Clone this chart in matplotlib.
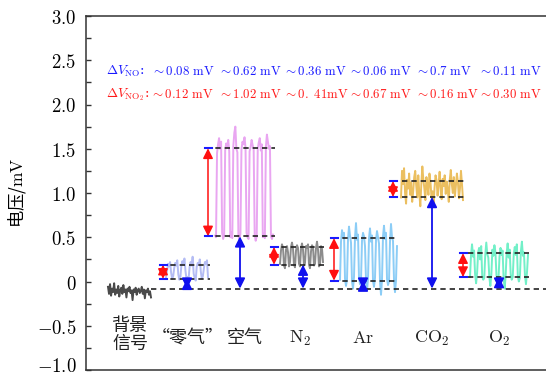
import numpy as np
import matplotlib
matplotlib.use('Agg')
import matplotlib.pyplot as plt
from matplotlib.ticker import FixedLocator, FixedFormatter, MultipleLocator
from matplotlib.transforms import ScaledTranslation

plt.rcParams['mathtext.fontset'] = 'cm'
plt.rcParams['font.family'] = ['Noto Sans CJK SC', 'DejaVu Sans']

# ---------------- data ----------------
categories = ['背景\n信号', '“零气”', '空气', r'$\mathrm{N_2}$', r'$\mathrm{Ar}$',
              r'$\mathrm{CO_2}$', r'$\mathrm{O_2}$']
baseline = -0.08
# levels for 零气, 空气, N2, Ar, CO2, O2
low_levels = [0.03, 0.51, 0.19, 0.01, 0.955, 0.05]
high_levels = [0.19, 1.505, 0.39, 0.49, 1.135, 0.32]

dv_no_text = ['~0.08 mV', '~0.62 mV', '~0.36 mV', '~0.06 mV', '~0.7 mV', '~0.11 mV']
dv_no2_text = ['~0.12 mV', '~1.02 mV', '~0. 41mV', '~0.67 mV', '~0.16 mV', '~0.30 mV']

trace_bg = [-0.06, -0.14, -0.03, -0.16, -0.08, -0.12, -0.02, -0.15, -0.09, -0.13, -0.05,
            -0.17, -0.10, -0.07, -0.14, -0.04, -0.12, -0.09, -0.18, -0.08, -0.11, -0.06,
            -0.13, -0.10, -0.21, -0.09, -0.12, -0.07, -0.15, -0.10, -0.08, -0.13, -0.11,
            -0.06, -0.14, -0.09, -0.19, -0.10, -0.12, -0.08, -0.15, -0.11, -0.18]
trace_zero = [0.05, 0.12, 0.20, 0.17, 0.22, 0.10, 0.03, 0.06, 0.15, 0.21, 0.18, 0.24, 0.08,
              0.02, 0.04, 0.18, 0.23, 0.19, 0.26, 0.12, 0.03, 0.05, 0.02, 0.16, 0.22, 0.18,
              0.28, 0.09, 0.04, 0.01, 0.17, 0.21, 0.19, 0.25, 0.11, 0.03, 0.06, 0.15, 0.22,
              0.20, 0.24, 0.05]
trace_air = [0.52, 0.50, 1.45, 1.55, 1.62, 1.50, 1.58, 0.55, 0.48, 0.53, 1.48, 1.56, 1.52,
             1.60, 1.47, 0.50, 0.56, 0.49, 1.53, 1.68, 1.75, 1.50, 1.46, 0.52, 0.47, 0.54,
             1.49, 1.58, 1.55, 1.63, 1.51, 0.55, 0.50, 0.48, 1.47, 1.52, 1.60, 1.54, 1.49,
             0.53, 0.46, 0.51, 1.50, 1.57, 1.62, 1.48, 1.55, 0.50, 0.54, 0.49, 1.52, 1.66,
             1.58, 1.50, 1.53, 0.51, 0.48, 0.53]
trace_n2 = [0.20, 0.35, 0.42, 0.38, 0.18, 0.15, 0.36, 0.40, 0.33, 0.17, 0.22, 0.39, 0.44,
            0.37, 0.19, 0.16, 0.35, 0.41, 0.38, 0.20, 0.17, 0.37, 0.43, 0.36, 0.18, 0.21,
            0.40, 0.38, 0.42, 0.19, 0.15, 0.34, 0.41, 0.39, 0.18, 0.20, 0.38, 0.45, 0.36,
            0.17, 0.19, 0.40, 0.37, 0.22]
trace_ar = [0.02, 0.45, 0.58, 0.50, 0.55, 0.03, -0.05, 0.02, 0.48, 0.62, 0.52, 0.44, 0.00,
            -0.08, 0.05, 0.50, 0.66, 0.47, 0.53, 0.04, -0.03, 0.01, 0.46, 0.55, 0.51, 0.40,
            0.02, -0.10, 0.03, 0.49, 0.60, 0.45, 0.52, 0.01, -0.06, 0.04, 0.47, 0.57, 0.50,
            0.43, 0.00, -0.15, 0.02, 0.51, 0.63, 0.48, 0.55, 0.03, -0.04, 0.00, 0.45, 0.65,
            0.50, 0.46, 0.02, -0.12, 0.01, 0.40]
trace_co2 = [0.95, 1.25, 1.10, 1.28, 1.00, 0.88, 1.15, 1.05, 1.22, 0.98, 1.12, 0.90, 1.02,
             1.18, 1.25, 1.08, 0.95, 1.20, 1.00, 0.85, 1.10, 1.30, 1.15, 1.05, 0.92, 1.18,
             1.08, 0.98, 1.22, 1.12, 0.95, 1.02, 0.88, 1.06, 1.20, 1.14, 0.97, 1.10, 1.24,
             1.03, 0.93, 1.16, 1.08, 1.20, 0.99, 1.13, 1.04, 0.90, 1.15, 1.26, 1.10, 1.00,
             1.18, 0.96, 1.08, 1.22, 1.12, 0.94, 1.05, 1.25, 1.10, 0.92]
trace_o2 = [0.05, 0.30, 0.42, 0.28, 0.35, 0.08, -0.02, 0.10, 0.33, 0.38, 0.25, 0.40, 0.06,
            0.02, 0.04, 0.30, 0.44, 0.31, 0.27, 0.05, -0.05, 0.08, 0.36, 0.29, 0.41, 0.33,
            0.07, 0.01, 0.03, 0.28, 0.38, 0.30, 0.35, 0.04, -0.08, 0.06, 0.32, 0.43, 0.27,
            0.36, 0.08, 0.02, 0.05, 0.31, 0.39, 0.30, 0.42, 0.06, 0.00, 0.04, 0.34, 0.45,
            0.29, 0.33, 0.07, -0.03, 0.10, 0.30]
traces = [trace_bg, trace_zero, trace_air, trace_n2, trace_ar, trace_co2, trace_o2]

# ---------------- layout / style ----------------
trace_colors = ['#4a4a4a', '#b4bcf4', '#e9a6f1', '#8c8c8c', '#8ccdf6', '#ebbf60', '#72f0c8']
trace_spans = [(108, 151), (166, 208), (215, 273), (280, 323), (340, 397), (401, 463), (470, 528)]
dash_spans = [(161, 210), (206, 275), (272, 325), (333, 398), (402, 464), (468, 529)]
red_x = [163, 208, 274, 334, 393, 463]
blue_x = [187, 240, 303, 363, 432, 499]
label_x = [130, 188, 245, 300, 363, 432, 499]
label_y = [-0.6, -0.64, -0.64, -0.64, -0.64, -0.64, -0.64]
text_x = [151, 218, 283, 348, 415, 478]

fig = plt.figure(figsize=(5.46, 3.77), dpi=100)
ax = fig.add_axes([86/546, 7/377, 1 - 86/546, (370 - 16)/377])
ax.set_xlim(86, 546)
ax.set_ylim(-1.0, 3.0)

dash_kw = dict(color='#222222', lw=1.2, ls=(0, (3.2, 2.4)))

# baseline
ax.plot([151, 546], [baseline, baseline], **dash_kw, zorder=3)

for (x0, x1), vals, c in zip(trace_spans, traces, trace_colors):
    xs = np.linspace(x0, x1, len(vals))
    ax.plot(xs, vals, color=c, lw=1.4, zorder=2)

for i in range(6):
    lo, hi = low_levels[i], high_levels[i]
    d0, d1 = dash_spans[i]
    ax.plot([d0, d1], [lo, lo], **dash_kw, zorder=3)
    ax.plot([d0, d1], [hi, hi], **dash_kw, zorder=3)
    rx = red_x[i]
    ax.annotate('', xy=(rx, hi), xytext=(rx, lo),
                arrowprops=dict(arrowstyle='<|-|>,head_length=0.6,head_width=0.3',
                                color='#ff1010', lw=1.1, shrinkA=0, shrinkB=0,
                                mutation_scale=10), zorder=4)
    for yy in (lo, hi):
        ax.plot([rx - 3.5, rx + 3.5], [yy, yy], color='#1a1aff', lw=1.5, zorder=5)
    bx = blue_x[i]
    ax.annotate('', xy=(bx, lo), xytext=(bx, baseline),
                arrowprops=dict(arrowstyle='<|-|>,head_length=0.6,head_width=0.3',
                                color='#1010ee', lw=1.3, shrinkA=0, shrinkB=0,
                                mutation_scale=10), zorder=4)

# category labels
for lx, ly, lab in zip(label_x, label_y, categories):
    ax.text(lx, ly, lab, ha='center', va='center', fontsize=13, color='#222222',
            linespacing=1.0)

# delta V annotations
def fmt(s):
    s = s.replace('~', r'\sim ').replace(' mV', r'\ \mathrm{mV}').replace('mV', r'\mathrm{mV}')
    s = s.replace(r'\ \mathrm{\mathrm{mV}}', r'\ \mathrm{mV}')
    s = s.replace('0. 41', r'0.\ 41')
    return '$' + s + '$'

fs_ann = 9.3
ax.text(106, 2.375, r'$\Delta V_{\mathrm{NO}}$:', color='#1a1aff', fontsize=fs_ann + 0.3,
        ha='left', va='center', family='DejaVu Serif')
ax.text(106, 2.118, r'$\Delta V_{\mathrm{NO_2}}$:', color='#ff1a1a', fontsize=fs_ann + 0.3,
        ha='left', va='center', family='DejaVu Serif')
for tx, s1, s2 in zip(text_x, dv_no_text, dv_no2_text):
    ax.text(tx, 2.375, fmt(s1), color='#1a1aff', fontsize=fs_ann, ha='left', va='center')
    ax.text(tx - (1 if s2 == dv_no2_text[0] else 0), 2.118, fmt(s2), color='#ff1a1a',
            fontsize=fs_ann, ha='left', va='center')

# axes styling
for side in ('left', 'top', 'bottom'):
    ax.spines[side].set_color('#333333')
    ax.spines[side].set_linewidth(1.1)
ax.spines['right'].set_visible(False)
ax.set_xticks([])
major = [-1.0, -0.5, 0, 0.5, 1.0, 1.5, 2.0, 2.5, 3.0]
major_lab = [r'$-1.0$', r'$-0.5$', r'$0$', r'$0.5$', r'$1.0$', r'$1.5$', r'$2.0$',
             r'$2.5$', r'$3.0$']
ax.yaxis.set_major_locator(FixedLocator(major))
ax.yaxis.set_major_formatter(FixedFormatter(major_lab))
ax.yaxis.set_minor_locator(MultipleLocator(0.25))
ax.tick_params(axis='y', which='both', direction='in', length=3.5, width=1.0,
               color='#333333', labelsize=13.5, pad=7)
ax.set_ylabel(r'电压/$\mathrm{mV}$', fontsize=12.5)
ax.yaxis.set_label_coords(-0.125, 0.5)

fig.canvas.draw()
ylabels = ax.get_yticklabels()
ylabels[0].set_va('center')
ylabels[0].set_transform(ylabels[0].get_transform() +
                         ScaledTranslation(0, 2.5/72, fig.dpi_scale_trans))

fig.savefig('out.png', dpi=100)
